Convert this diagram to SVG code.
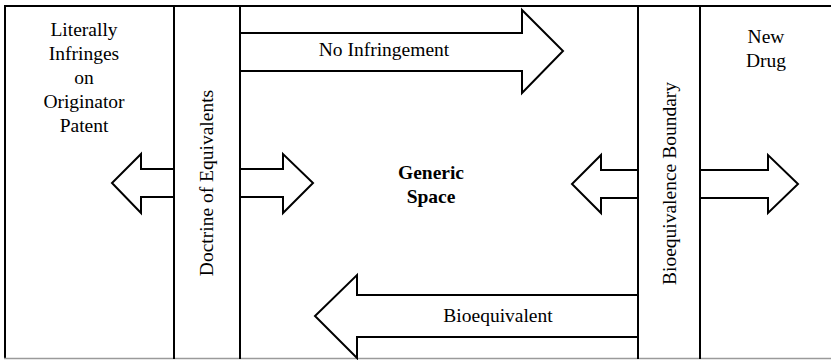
<svg xmlns="http://www.w3.org/2000/svg" width="831" height="360" viewBox="0 0 831 360">
<style>
.ln{fill:none;stroke:#000;stroke-width:2;stroke-linejoin:miter}
.arr{fill:#fff;stroke:#000;stroke-width:2;stroke-linejoin:miter}
.t{font-family:"Liberation Serif","Times New Roman",serif;font-size:19.5px;fill:#000;text-anchor:middle}
.b{font-weight:bold}
</style>
<rect width="831" height="360" fill="#fff"/>
<g id="frame">
<line class="ln" x1="4" y1="6" x2="831" y2="6"/>
<line class="ln" x1="5" y1="5" x2="5" y2="359"/>
<line x1="4" y1="358.5" x2="831" y2="358.5" stroke="#9a9a9a" stroke-width="1.5"/>
</g>
<g id="connectors">
<polyline class="arr" points="240,33 522,33 522,10 563,51 522,93 522,71 240,71"/>
<polyline class="arr" points="638,295 357,295 357,275 315,316 357,358 357,337 638,337"/>
<polyline class="arr" points="174,169 141,169 141,154 112,183 141,213 141,197 174,197"/>
<polyline class="arr" points="240,169 283,169 283,154 313,183 283,213 283,197 240,197"/>
<polyline class="arr" points="638,170 601,170 601,155 572,184 601,213 601,198 638,198"/>
<polyline class="arr" points="700,170 768,170 768,155 798,184 768,213 768,198 700,198"/>
</g>
<g id="doctrine">
<line class="ln" x1="174" y1="6" x2="174" y2="359"/>
<line class="ln" x1="240" y1="6" x2="240" y2="359"/>
<text class="t" transform="translate(213,183) rotate(-90)">Doctrine of Equivalents</text>
</g>
<g id="bioequivalence-boundary">
<line class="ln" x1="638" y1="6" x2="638" y2="359"/>
<line class="ln" x1="700" y1="6" x2="700" y2="359"/>
<text class="t" transform="translate(676,183.5) rotate(-90)">Bioequivalence Boundary</text>
</g>
<g id="literal">
<text class="t" x="84" y="36">Literally</text>
<text class="t" x="84" y="60">Infringes</text>
<text class="t" x="84" y="84">on</text>
<text class="t" x="84" y="108">Originator</text>
<text class="t" x="84" y="132">Patent</text>
</g>
<g id="new-drug">
<text class="t" x="766" y="43">New</text>
<text class="t" x="766" y="67">Drug</text>
</g>
<g id="generic-space">
<text class="t b" x="431" y="179">Generic</text>
<text class="t b" x="431" y="203">Space</text>
</g>
<g id="no-infringement">
<text class="t" x="384" y="56">No Infringement</text>
</g>
<g id="bioequivalent">
<text class="t" x="498" y="322">Bioequivalent</text>
</g>
</svg>
